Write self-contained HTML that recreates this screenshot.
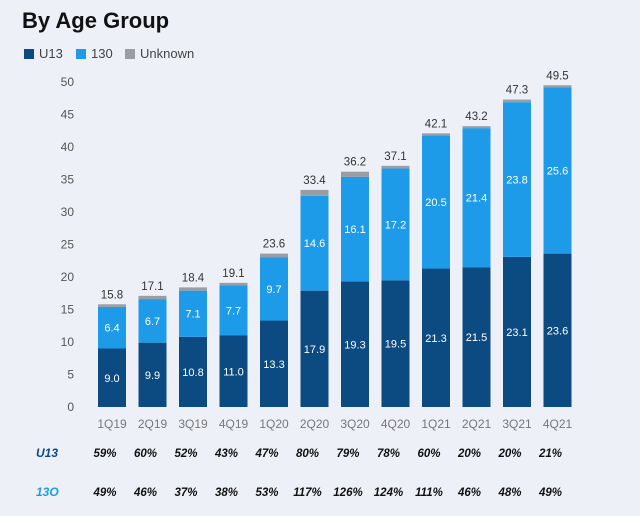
<!DOCTYPE html>
<html><head><meta charset="utf-8"><style>
body{margin:0;width:640px;height:516px;background:#eef0f7;font-family:"Liberation Sans",sans-serif;overflow:hidden;position:relative}
.t{position:absolute;left:22px;top:8px;font-size:22px;font-weight:bold;color:#111}
.lg{position:absolute;top:46px;font-size:13px;color:#444;display:flex;align-items:center}
.lg i{display:inline-block;width:10px;height:10px;margin-right:5px}
</style></head><body>
<div class="t">By Age Group</div>
<div class="lg" style="left:24px"><i style="background:#0c4a82"></i>U13</div>
<div class="lg" style="left:76px"><i style="background:#1e9be8"></i>130</div>
<div class="lg" style="left:125px"><i style="background:#9a9da3"></i>Unknown</div>
<svg id="c" width="640" height="516" style="position:absolute;left:0;top:0"></svg>
<script>
const categories=["1Q19","2Q19","3Q19","4Q19","1Q20","2Q20","3Q20","4Q20","1Q21","2Q21","3Q21","4Q21"];
const u13=[9.0,9.9,10.8,11.0,13.3,17.9,19.3,19.5,21.3,21.5,23.1,23.6];
const s130=[6.4,6.7,7.1,7.7,9.7,14.6,16.1,17.2,20.5,21.4,23.8,25.6];
const unknown=[0.4,0.5,0.5,0.4,0.6,0.9,0.8,0.4,0.3,0.3,0.4,0.3];
const totals=[15.8,17.1,18.4,19.1,23.6,33.4,36.2,37.1,42.1,43.2,47.3,49.5];
const yTicks=[0,5,10,15,20,25,30,35,40,45,50];
const u13Growth=["59%","60%","52%","43%","47%","80%","79%","78%","60%","20%","20%","21%"];
const g130Growth=["49%","46%","37%","38%","53%","117%","126%","124%","111%","46%","48%","49%"];
const svg=document.getElementById('c');const NS="http://www.w3.org/2000/svg";
const y=v=>407-v*6.5;const x=i=>112+i*40.5;const bw=28;
function mk(t,a,txt){const e=document.createElementNS(NS,t);for(const k in a)e.setAttribute(k,a[k]);if(txt!=null)e.textContent=txt;svg.appendChild(e);return e;}
yTicks.forEach(v=>{const e=mk('text',{x:74,y:y(v)+4,'text-anchor':'end','font-size':12,fill:'#555'},v);

});
categories.forEach((c,i)=>{
const cx=x(i);let b=0;
[[u13,'#0c4a82'],[s130,'#1e9be8'],[unknown,'#9a9da3']].forEach(([arr,col],k)=>{
const r=mk('rect',{x:cx-bw/2,y:y(b+arr[i]),width:bw,height:arr[i]*6.5,fill:col});


if(k<2){const tx=mk('text',{x:cx,y:y(b+arr[i]/2)+4,'text-anchor':'middle','font-size':11,fill:'#fff'},arr[i].toFixed(1));

}
b+=arr[i];});
const tl=mk('text',{x:cx,y:y(totals[i])-6,'text-anchor':'middle','font-size':11.5,fill:'#333'},totals[i].toFixed(1));


const xl=mk('text',{x:cx,y:428,'text-anchor':'middle','font-size':12,fill:'#777'},c);


const g1=mk('text',{x:cx-7,y:457,'text-anchor':'middle','font-size':11.5,'font-weight':'bold','font-style':'italic',fill:'#111'},u13Growth[i]);


const g2=mk('text',{x:cx-7,y:496,'text-anchor':'middle','font-size':11.5,'font-weight':'bold','font-style':'italic',fill:'#111'},g130Growth[i]);


});
const r1=mk('text',{x:36,y:457,'font-size':12,'font-weight':'bold','font-style':'italic',fill:'#0c4a82'},'U13');


const r2=mk('text',{x:36,y:496,'font-size':12,'font-weight':'bold','font-style':'italic',fill:'#1e9be8'},'13O');


</script>
</body></html>
